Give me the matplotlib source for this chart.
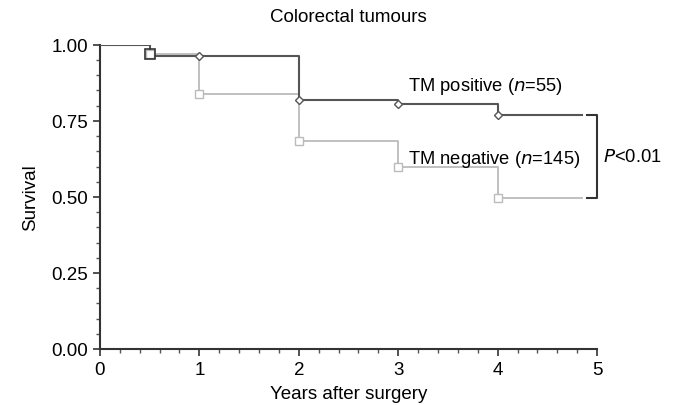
import numpy as np
import matplotlib.pyplot as plt
from matplotlib.ticker import MultipleLocator

plt.rcParams['font.family'] = ['Liberation Sans', 'DejaVu Sans']

# step times (years) and survival estimates
times = [0, 0.5, 1, 2, 3, 4, 4.85]
pos_surv = [1.0, 0.965, 0.965, 0.82, 0.805, 0.77, 0.77]
neg_surv = [1.0, 0.97, 0.84, 0.685, 0.60, 0.495, 0.495]

# censor / event marks
pos_mark_t = [1, 2, 3, 4]
pos_mark_s = [0.965, 0.82, 0.805, 0.77]
neg_mark_t = [0.5, 1, 2, 3, 4]
neg_mark_s = [0.97, 0.84, 0.685, 0.60, 0.495]

dark = '#555555'
light = '#bbbbbb'

fig = plt.figure(figsize=(6.8, 4.06), dpi=100)
ax = fig.add_axes([0.147, 0.138, 0.731, 0.749])

ax.step(times, neg_surv, where='post', color=light, lw=1.3, zorder=2)
ax.step(times, pos_surv, where='post', color=dark, lw=1.5, zorder=3)
ax.plot(neg_mark_t, neg_mark_s, 's', ms=6, mfc='white', mec=light, mew=1, zorder=4)
ax.plot(pos_mark_t, pos_mark_s, 'D', ms=4.5, mfc='white', mec=dark, mew=1, zorder=5)
ax.plot([0.5], [0.97], 's', ms=7, mfc='none', mec='#333333', mew=1.2, zorder=6)

ax.text(3.1, 0.868, r'TM positive ($\mathit{n}$=55)', fontsize=13.2, ha='left', va='center')
ax.text(3.1, 0.628, r'TM negative ($\mathit{n}$=145)', fontsize=13.2, ha='left', va='center')

# bracket for the p value
ax.plot([4.9, 5.0, 5.0, 4.9], [0.77, 0.77, 0.495, 0.495], color='#333333', lw=1.5, clip_on=False)
ax.text(5.06, 0.632, r'$\mathit{P}$<0.01', fontsize=13.2, ha='left', va='center')

ax.set_xlim(0, 5)
ax.set_ylim(0, 1)
ax.xaxis.set_major_locator(MultipleLocator(1))
ax.xaxis.set_minor_locator(MultipleLocator(0.2))
ax.yaxis.set_major_locator(MultipleLocator(0.25))
ax.yaxis.set_minor_locator(MultipleLocator(0.05))
ax.set_yticks([0, 0.25, 0.5, 0.75, 1.0])
ax.set_yticklabels(['0.00', '0.25', '0.50', '0.75', '1.00'])
ax.tick_params(which='major', length=5, width=1.2, labelsize=13.5, color='#333333')
ax.tick_params(which='minor', length=3, width=1, color='#555555')
for s in ['top', 'right']:
    ax.spines[s].set_visible(False)
for s in ['left', 'bottom']:
    ax.spines[s].set_linewidth(1.5)
    ax.spines[s].set_color('#333333')

ax.set_xlabel('Years after surgery', fontsize=13.5, labelpad=5)
ax.set_ylabel('Survival', fontsize=13.5, labelpad=9)
ax.set_title('Colorectal tumours', fontsize=13.5, pad=17)

fig.savefig('out.png', dpi=100)
